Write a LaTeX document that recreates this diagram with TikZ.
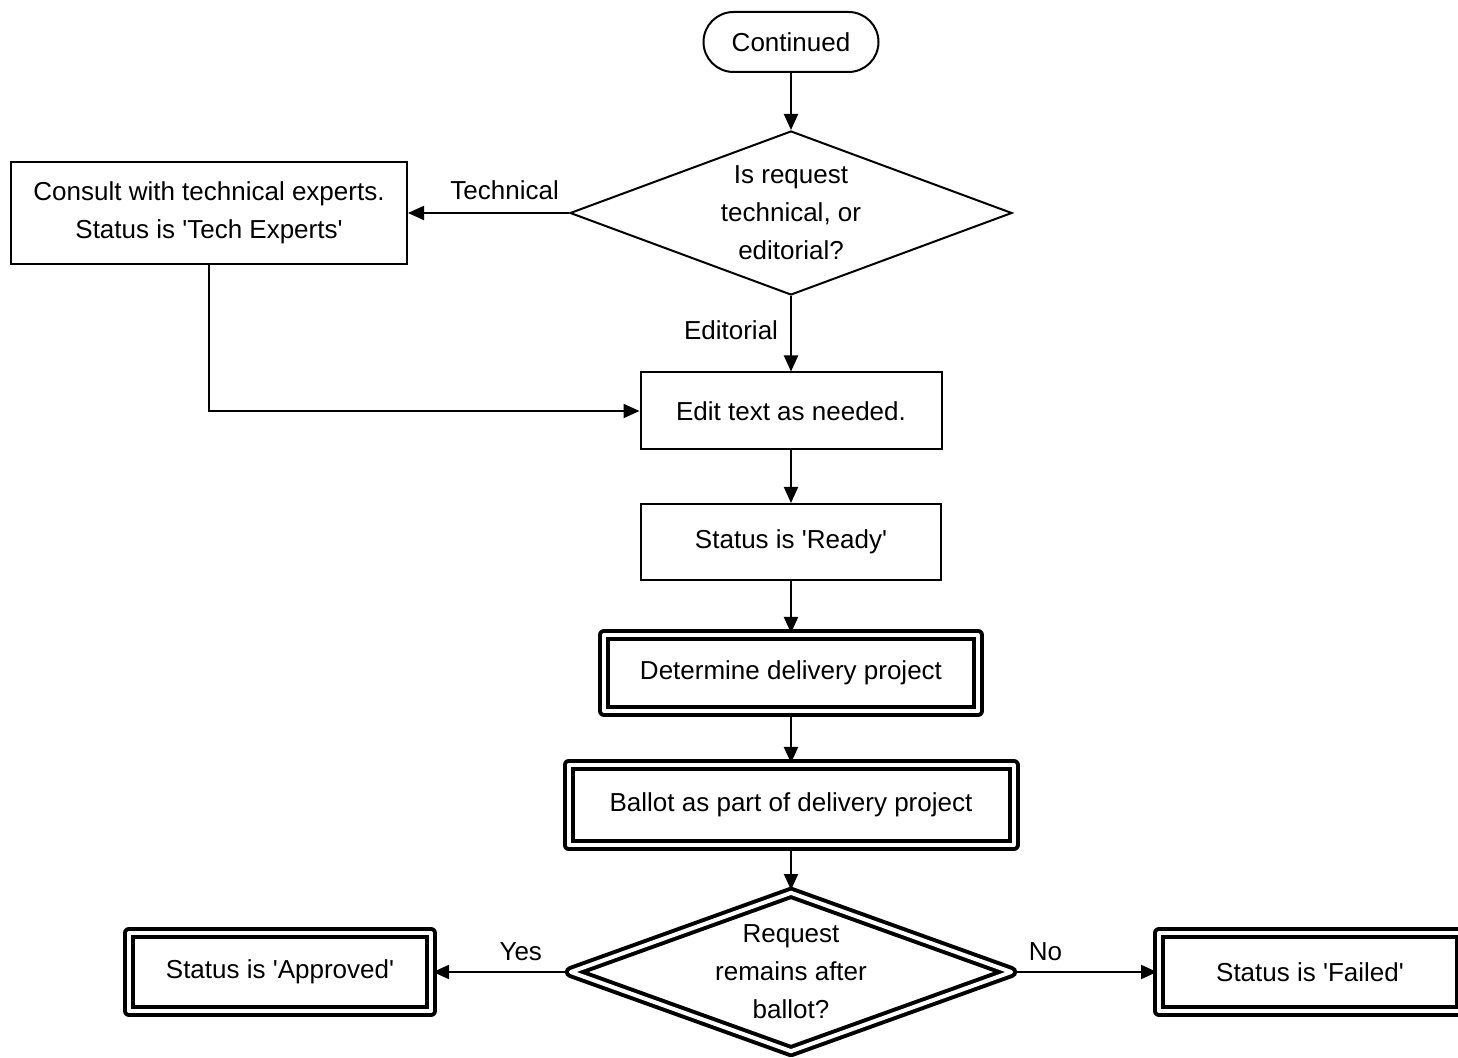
\documentclass[tikz,border=0pt]{standalone}
\usepackage{fontspec}
\setmainfont{Liberation Sans}
\usetikzlibrary{shapes.geometric,arrows.meta}

\begin{document}
\begin{tikzpicture}[x=0.5pt, y=-0.5pt, font=\fontsize{13}{19}\selectfont,
        box/.style={draw, line width=1pt, inner sep=0pt, align=center},
        dbox/.style={draw, line width=2pt, double, double distance=2pt, line join=round, inner sep=0pt, align=center},
        decision/.style={diamond, aspect=2.7, inner sep=0pt, align=center, minimum width=221pt},
        arr/.style={line width=1pt, -{Triangle[length=8pt,width=7pt]}}]
    \useasboundingbox (0,0) rectangle (1458,1058);

    % Nodes
    \node[box, rounded corners=15pt, minimum width=87.5pt, minimum height=30pt] (C) at (791,42) {Continued};
    \node[decision, draw, line width=1pt, minimum height=82pt] (Q) at (791,213) {Is request\\technical, or\\editorial?};
    \node[box, minimum width=198pt, minimum height=51pt] (T) at (209,213) {Consult with technical experts.\\Status is \textquotesingle Tech Experts\textquotesingle};
    \node[box, minimum width=150.5pt, minimum height=38.5pt] (E) at (791,411) {Edit text as needed.};
    \node[box, minimum width=150pt, minimum height=38pt] (R) at (791,542) {Status is \textquotesingle Ready\textquotesingle};
    \node[dbox, minimum width=187pt, minimum height=38pt] (D) at (791,673) {Determine delivery project};
    \node[dbox, minimum width=222.5pt, minimum height=40pt] (B) at (791,805) {Ballot as part of delivery project};
    \node[decision, draw, line width=2pt, double, double distance=2pt, line join=round, minimum height=80pt] (S) at (791,972) {Request\\remains after\\ballot?};
    \node[dbox, minimum width=151pt, minimum height=39pt] (A) at (280,972) {Status is \textquotesingle Approved\textquotesingle};
    \node[dbox, minimum width=151pt, minimum height=39pt] (F) at (1310,972) {Status is \textquotesingle Failed\textquotesingle};

    % Arrows
    \draw[arr] (C) -- (Q);
    \draw[arr] (Q.west) -- node[pos=0.4, above, inner sep=6pt] {Technical} (T.east);
    \draw[arr] (Q.south) -- node[left, inner sep=6pt, yshift=2pt] {Editorial} (E.north);
    \draw[arr] (T.south) |- (E.west);
    \draw[arr] (E) -- (R);
    \draw[arr] (R) -- (D);
    \draw[arr] (D) -- (B);
    \draw[arr] (B) -- (S);
    \draw[arr] (S.west) -- node[pos=0.35, above, inner sep=5pt] {Yes} (A.east);
    \draw[arr] (S.east) -- node[pos=0.22, above, inner sep=5pt] {No} (F.west);
\end{tikzpicture}
\end{document}
